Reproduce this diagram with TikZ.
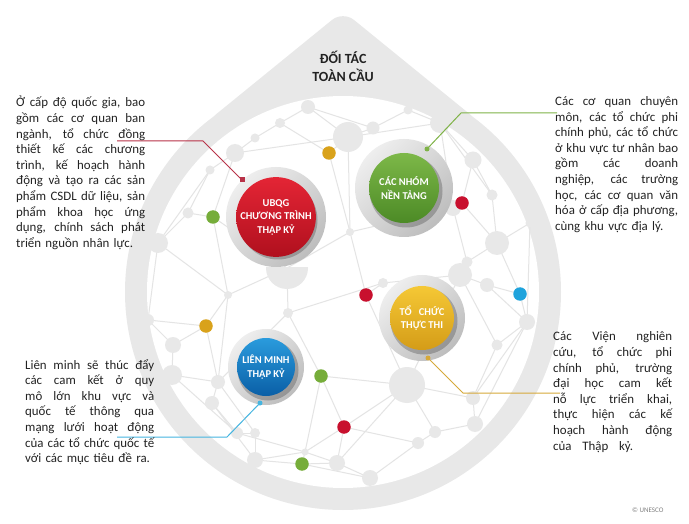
\documentclass[tikz,border=0pt]{standalone}
\usepackage{fontspec}
\setmainfont{Carlito}
\definecolor{ringgrey}{HTML}{E8E8E8}
\definecolor{netline}{HTML}{E4E4E4}
\definecolor{netnode}{HTML}{E8E8E8}
\definecolor{txt}{HTML}{222222}
\definecolor{dgold}{HTML}{D9A21B}
\definecolor{dgreen}{HTML}{76AD3A}
\definecolor{dred}{HTML}{C8102E}
\definecolor{dblue}{HTML}{1FA3DC}
\definecolor{lred}{HTML}{B83248}
\definecolor{lgreen}{HTML}{7FB347}
\definecolor{lgold}{HTML}{D6A93A}
\definecolor{lblue}{HTML}{45B5E0}
\definecolor{haloL}{HTML}{EEEEEE}
\definecolor{haloD}{HTML}{BDBDBD}
\definecolor{redA}{HTML}{E42535}
\definecolor{redB}{HTML}{B0101E}
\definecolor{greenA}{HTML}{7DB848}
\definecolor{greenB}{HTML}{4C8A26}
\definecolor{yelA}{HTML}{F5C835}
\definecolor{yelB}{HTML}{D49C18}
\definecolor{blueA}{HTML}{2A9BDD}
\definecolor{blueB}{HTML}{0A5FA6}
\pgfdeclarelayer{bottom}
\pgfdeclarelayer{edges}
\pgfsetlayers{bottom,edges,main}
\newlength\tw
\newcommand\jl[1]{{\spaceskip=0.23em plus 5em\relax\xspaceskip=0.23em plus 5em\relax\makebox[\tw][s]{#1}}}
\begin{document}
\begin{tikzpicture}[x=1pt,y=-1pt,
  gnode/.style={circle,fill=netnode,inner sep=0pt,minimum size=#1},
  cdot/.style={circle,fill=#1,inner sep=0pt,minimum size=13.5pt},
  netedge/.style={draw=netline,line width=1pt},
  halo/.style={circle,inner sep=0pt,minimum size=#1,top color=haloL,bottom color=haloD,shading angle=45},
  shadowc/.style={circle,inner sep=0pt,fill=black,opacity=0.22,minimum size=#1},
  disk/.style={circle,inner sep=0pt,text=white,font=\bfseries\fontsize{10.5}{13.5}\selectfont,align=center,shading angle=35},
  enddot/.style={circle,inner sep=0pt,fill=#1,minimum size=5pt},
  conn/.style={line width=1pt},
  body/.style={anchor=base west,inner sep=0pt,text=txt,font=\fontsize{12.9}{15.6}\selectfont,align=left},
]
\useasboundingbox (0,0) rectangle (689,524);
\begin{pgfonlayer}{bottom}
\fill[white] (0,0) rectangle (689,524);
\fill[ringgrey, rounded corners=14pt] (205.5,122.9) -- (343,11) -- (480.5,122.9) -- cycle;
\fill[ringgrey] (343,292) circle[radius=218];
\fill[white] (343,292) circle[radius=196];
\end{pgfonlayer}

% grey network nodes
\node[gnode=14] (g1) at (308,107) {};
\node[gnode=30] (g2) at (348,137) {};
\node[gnode=10] (g3) at (280,123) {};
\node[gnode=9] (g4) at (255,138) {};
\node[gnode=18] (g5) at (235,153) {};
\node[gnode=9] (g6) at (210,170) {};
\node[gnode=11] (g7) at (188,213) {};
\node[gnode=20] (g8) at (158,243) {};
\node[gnode=13] (g10) at (373,128) {};
\node[gnode=9] (g11) at (408,110) {};
\node[gnode=20] (g12) at (440,123) {};
\node[gnode=17] (g13) at (473,160) {};
\node[gnode=11] (g14) at (492,195) {};
\node[gnode=24] (g15) at (497,243) {};
\node[gnode=11] (g16) at (467,262) {};
\node[gnode=9] (g17) at (530,223) {};
\node[gnode=16] (g18) at (453,208) {};
\node[gnode=24] (g19) at (460,275) {};
\node[gnode=14] (g20) at (487,285) {};
\node[gnode=16] (g21) at (527,322) {};
\node[gnode=11] (g22) at (497,345) {};
\node[gnode=36] (g23) at (407,385) {};
\node[gnode=14] (g24) at (473,398) {};
\node[gnode=16] (g25) at (475,424) {};
\node[gnode=12] (g26) at (435,432) {};
\node[gnode=12] (g27) at (418,443) {};
\node[gnode=16] (g28) at (370,478) {};
\begin{scope}
\clip (240,268) rectangle (335,300);
\node[gnode=42] (g29) at (287,268) {};
\end{scope}
\node[gnode=8] (g30) at (228,295) {};
\node[gnode=10] (g31) at (288,313) {};
\node[gnode=16] (g32) at (173,345) {};
\node[gnode=20] (g33) at (172,375) {};
\node[gnode=14] (g34) at (218,382) {};
\node[gnode=14] (g35) at (212,403) {};
\node[gnode=12] (g36) at (237,433) {};
\node[gnode=10] (g37) at (255,433) {};
\node[gnode=16] (g38) at (255,460) {};
\node[gnode=7] (g39) at (305,452) {};
\node[gnode=16] (g40) at (337,463) {};
\node[gnode=12] (g41) at (148,320) {};
\node[gnode=10] (g42) at (383,283) {};
\node[gnode=8] (g43) at (350,232) {};

% coloured dots
\node[cdot=dgold] (c1) at (329,153) {};
\node[cdot=dgreen] (c2) at (213,217) {};
\node[cdot=dred] (c3) at (462,203) {};
\node[cdot=dred] (c4) at (366,295) {};
\node[cdot=dblue] (c5) at (520,294) {};
\node[cdot=dgold] (c6) at (206,326) {};
\node[cdot=dgreen] (c7) at (321,376) {};
\node[cdot=dred] (c8) at (344,427) {};
\node[cdot=dgreen] (c9) at (302,464) {};

\begin{pgfonlayer}{edges}
\foreach \a/\b in {g1/g2,g1/g3,g1/g10,g2/g10,g10/g11,g11/g12,g12/g13,g13/g14,g14/g15,g15/g16,
  g16/g19,g19/g20,g20/g21,g21/g22,g22/g24,g24/g25,g25/g26,g26/g27,g27/g28,g28/c9,c9/g40,g40/g39,
  g39/g38,g38/g37,g37/g36,g36/g35,g35/g34,g34/g33,g33/g32,g32/g41,g41/g8,g8/g7,g7/g6,g6/g5,g5/g4,
  g4/g3,g3/c1,c1/g2,c1/g43,g43/c4,g43/g18,g43/g29,g5/c2,g7/c2,c2/g30,c2/g29,g29/g30,g30/c6,
  c6/g41,c6/g32,c6/g34,g30/g34,g29/g31,g31/c7,g31/g34,c7/g39,c7/c8,c7/g23,c8/g39,c8/g40,c8/g23,
  c8/g27,g23/g26,g23/g24,g23/c4,c4/g42,g42/g19,g42/g31,g19/g22,g18/c3,c3/g15,c3/g13,g18/g16,
  g18/g12,g15/g17,g17/g21,c5/g21,c5/g20,c5/g15,g2/g12,g33/g36,g35/g38,g36/g39,c9/g39,c9/g38,
  g28/g40,g25/g21,g8/g30,g5/g2,g2/g43,g23/g19,g24/g21,g40/g23,g34/g37,g6/g8,g12/g14}
  \draw[netedge] (\a.center) -- (\b.center);
\end{pgfonlayer}

% main circles
\node[halo=100] (h1) at (276,217) {};
\node[shadowc=79] (s1) at (278,220) {};
\node[disk,minimum size=76pt,top color=redA,bottom color=redB] (ubqg) at (276,217) {UBQG\\CHƯƠNG TRÌNH\\THẬP KỶ};

\node[halo=98] (h2) at (404,188) {};
\node[shadowc=73] (s2) at (406,191) {};
\node[disk,minimum size=70pt,top color=greenA,bottom color=greenB] (nhom) at (404,188) {CÁC NHÓM\\NỀN TẢNG};

\node[halo=86] (h3) at (422,318) {};
\node[shadowc=67] (s3) at (424,321) {};
\node[disk,minimum size=64pt,top color=yelA,bottom color=yelB] (tochuc) at (422,318) {TỔ \ \ CHỨC\\THỰC THI};

\node[halo=76] (h4) at (266,367) {};
\node[shadowc=61] (s4) at (268,370) {};
\node[disk,minimum size=58pt,top color=blueA,bottom color=blueB] (lienminh) at (266,367) {LIÊN MINH\\THẬP KỶ};

% connectors
\node[enddot=lred,rectangle,minimum size=5pt] (rd) at (242,180) {};
\coordinate (rb) at (203,141);
\coordinate (re) at (117,141);
\draw[conn,lred] (rd.center) -- (rb) -- (re);

\node[enddot=lgreen] (gd) at (427,149) {};
\coordinate (gb) at (461,113);
\coordinate (ge) at (557,113);
\draw[conn,lgreen] (gd.center) -- (gb) -- (ge);

\node[enddot=lgold] (yd) at (428,358) {};
\coordinate (yb) at (463,393);
\coordinate (ye) at (560,393);
\draw[conn,lgold] (yd.center) -- (yb) -- (ye);

\node[enddot=lblue] (bd) at (260,403) {};
\coordinate (bb) at (227,437);
\coordinate (be) at (117,437);
\draw[conn,lblue] (bd.center) -- (bb) -- (be);

% title
\node[font=\bfseries\fontsize{14}{18}\selectfont,text=txt,align=center] (title) at (343,66) {ĐỐI TÁC\\TOÀN CẦU};

% texts
\node[body,text width=129pt] (tl) at (16,107) {\setlength\tw{129pt}%
\jl{Ở cấp độ quốc gia, bao}\\
\jl{gồm các cơ quan ban}\\
\jl{ngành, tổ chức đồng}\\
\jl{thiết kế các chương}\\
\jl{trình, kế hoạch hành}\\
\jl{động và tạo ra các sản}\\
\jl{phẩm CSDL dữ liệu, sản}\\
\jl{phẩm khoa học ứng}\\
\jl{dụng, chính sách phát}\\
triển nguồn nhân lực.};

\node[body,text width=123pt] (tr) at (555,105.5) {\setlength\tw{123pt}%
\jl{Các cơ quan chuyên}\\
\jl{môn, các tổ chức phi}\\
\jl{chính phủ, các tổ chức}\\
\jl{ở khu vực tư nhân bao}\\
\jl{gồm các doanh}\\
\jl{nghiệp, các trường}\\
\jl{học, các cơ quan văn}\\
\jl{hóa ở cấp địa phương,}\\
cùng khu vực địa lý.};

\node[body,text width=129pt] (bl) at (25,369) {\setlength\tw{129pt}%
\jl{Liên minh sẽ thúc đẩy}\\
\jl{các cam kết ở quy}\\
\jl{mô lớn khu vực và}\\
\jl{quốc tế thông qua}\\
\jl{mạng lưới hoạt động}\\
\jl{của các tổ chức quốc tế}\\
với các mục tiêu đề ra.};

\node[body,text width=119pt] (br) at (553,341) {\setlength\tw{119pt}%
\jl{Các Viện nghiên}\\
\jl{cứu, tổ chức phi}\\
\jl{chính phủ, trường}\\
\jl{đại học cam kết}\\
\jl{nỗ lực triển khai,}\\
\jl{thực hiện các kế}\\
\jl{hoạch hành động}\\
{\setlength\tw{80pt}\jl{của Thập kỷ.}}};

\node[font=\fontsize{7}{8}\selectfont,text=gray,anchor=west,inner sep=0pt] (cr) at (632,510) {© UNESCO};
\end{tikzpicture}
\end{document}
